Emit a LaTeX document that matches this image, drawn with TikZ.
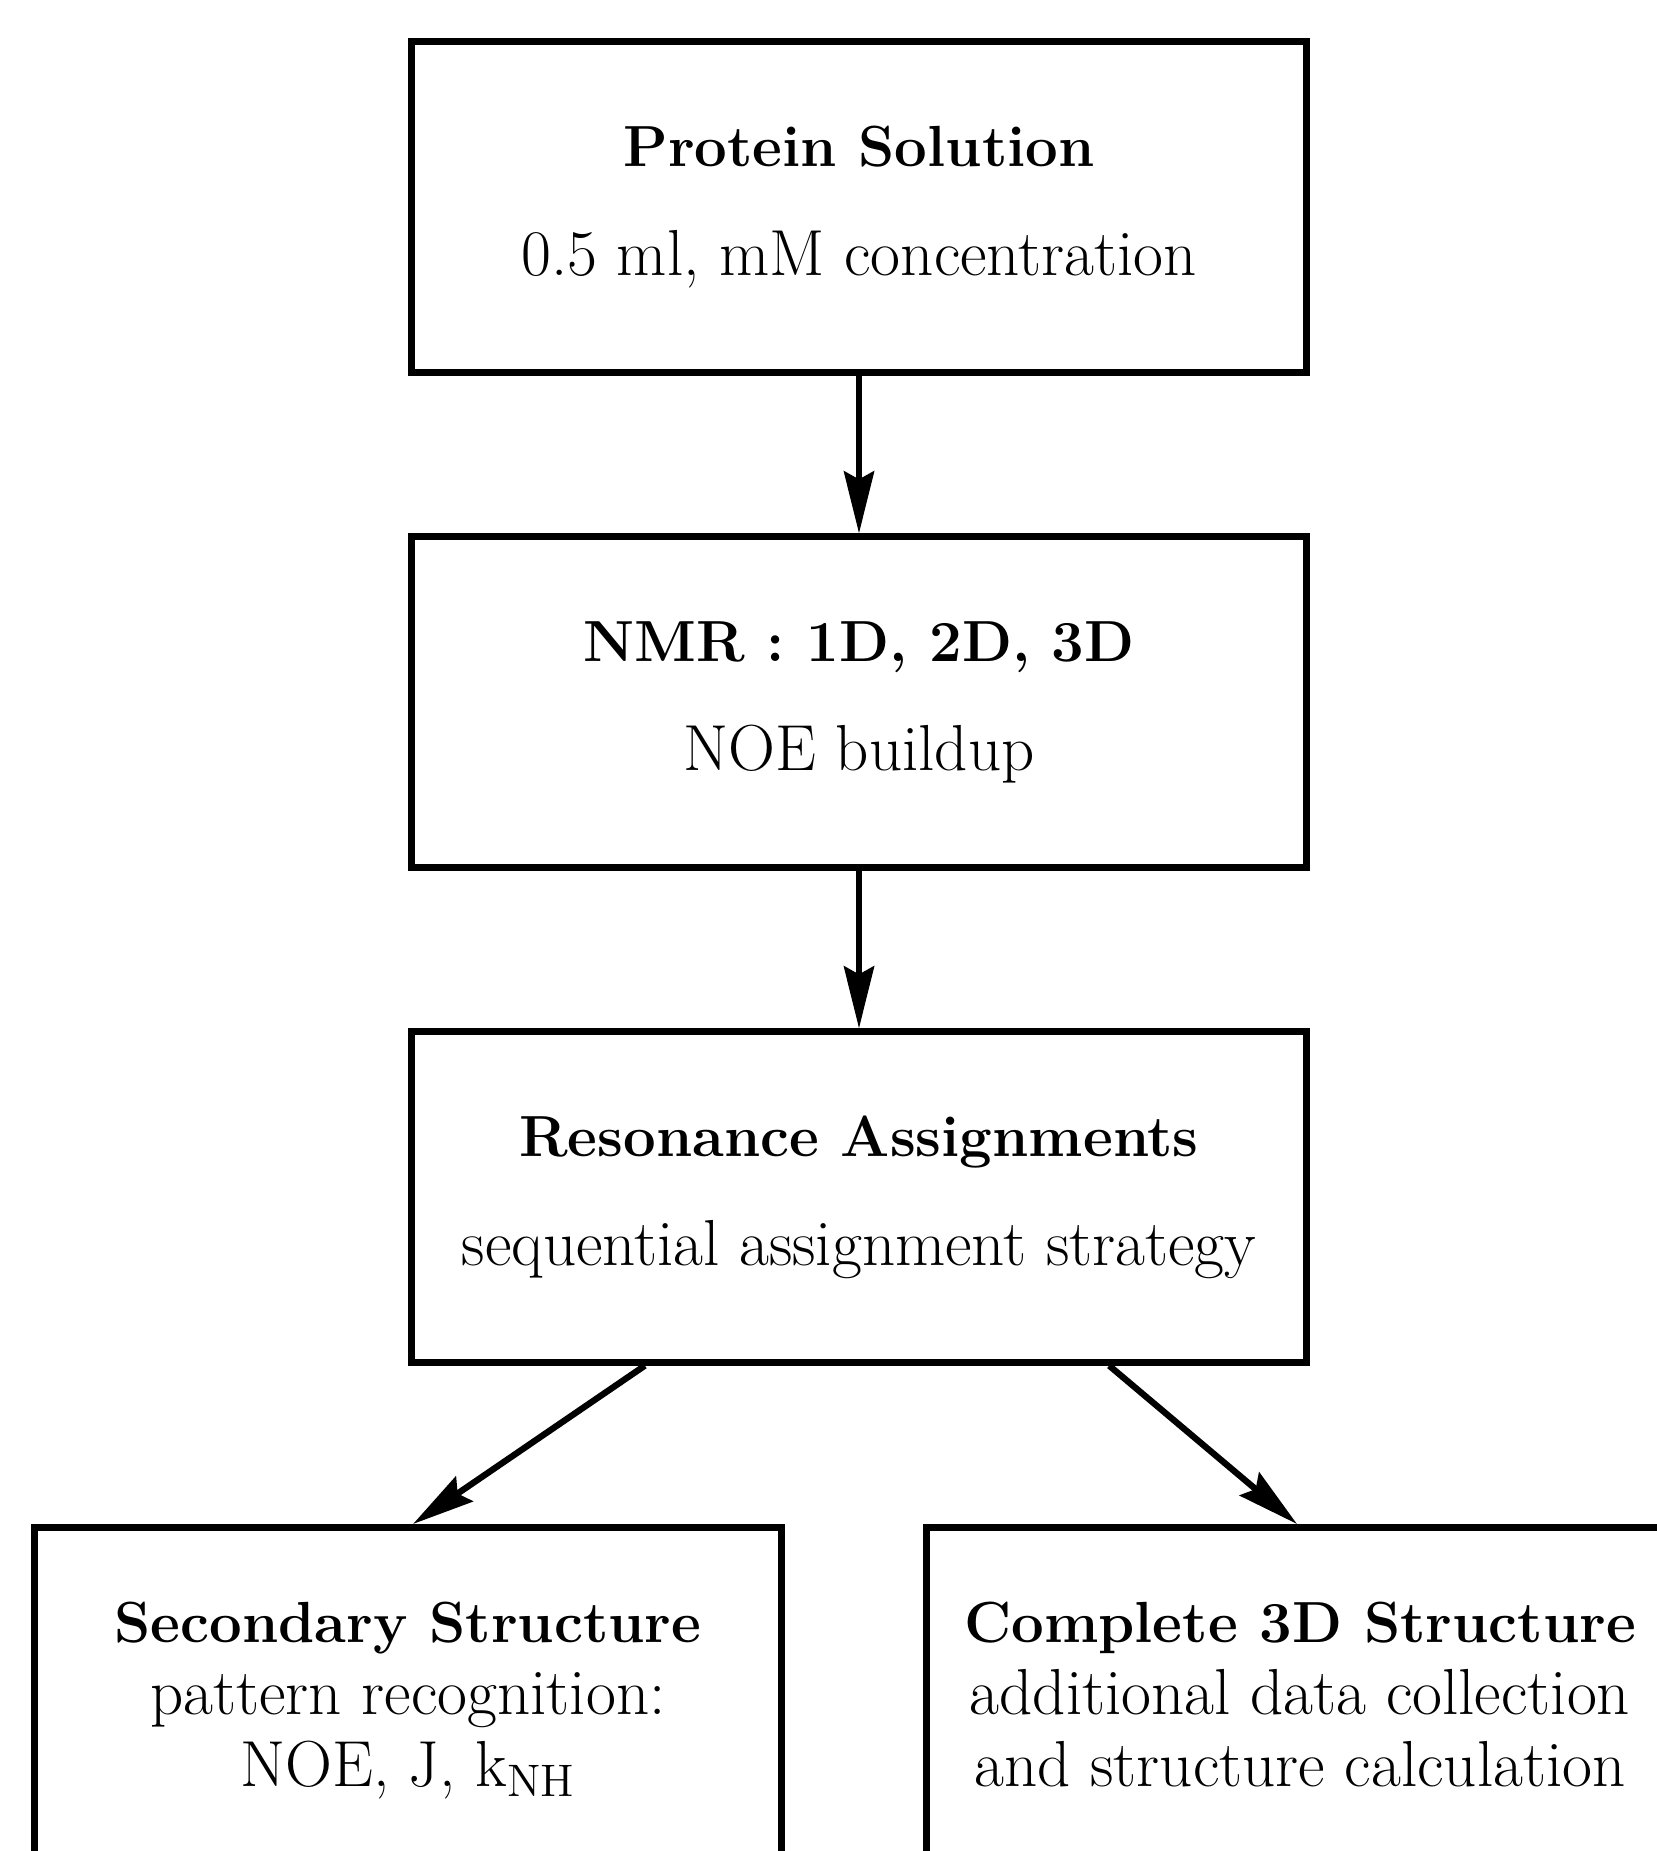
\documentclass[tikz,border=0pt]{standalone}
\usepackage{fontspec}
\usepackage{tikz}
\usetikzlibrary{arrows.meta,positioning}

\newcommand{\boxtitle}[1]{{\fontsize{16.5}{20}\selectfont\bfseries #1}}

\begin{document}
\begin{tikzpicture}[
    x=0.01cm, y=-0.01cm,
    stage/.style={rectangle, draw, line width=2pt, minimum width=8.95cm, minimum height=3.3cm, align=center, font=\fontsize{18.5}{31}\selectfont},
    result/.style={rectangle, draw, line width=2pt, minimum width=7.46cm, anchor=north, inner ysep=0.74cm, text depth=3cm, align=center, font=\fontsize{18.5}{20.5}\selectfont},
    arrow/.style={-{Stealth[length=6.2mm,width=3mm,inset=0.8mm]}, line width=1.8pt}
]
    \useasboundingbox (0,0) rectangle (1656,1851);

    \node[stage] (sol) at (859,207) {\boxtitle{Protein Solution}\\0.5 ml, mM concentration};
    \node[stage] (nmr) at (859,702) {\boxtitle{NMR : 1D, 2D, 3D}\\NOE buildup};
    \node[stage] (res) at (859,1197) {\boxtitle{Resonance Assignments}\\sequential assignment strategy};

    \node[result] (sec) at (408,1524) {\boxtitle{Secondary Structure}\\pattern recognition:\\NOE, J, k\textsubscript{NH}};
    \node[result] (cplt) at (1300,1524) {\boxtitle{Complete 3D Structure}\\additional data collection\\and structure calculation};

    \draw[arrow] (sol) -- (nmr);
    \draw[arrow] (nmr) -- (res);
    \draw[arrow] ([xshift=-2.14cm]res.south) -- ([xshift=0.05cm]sec.north);
    \draw[arrow] ([xshift=2.5cm]res.south) -- ([xshift=-0.03cm]cplt.north);
\end{tikzpicture}
\end{document}
